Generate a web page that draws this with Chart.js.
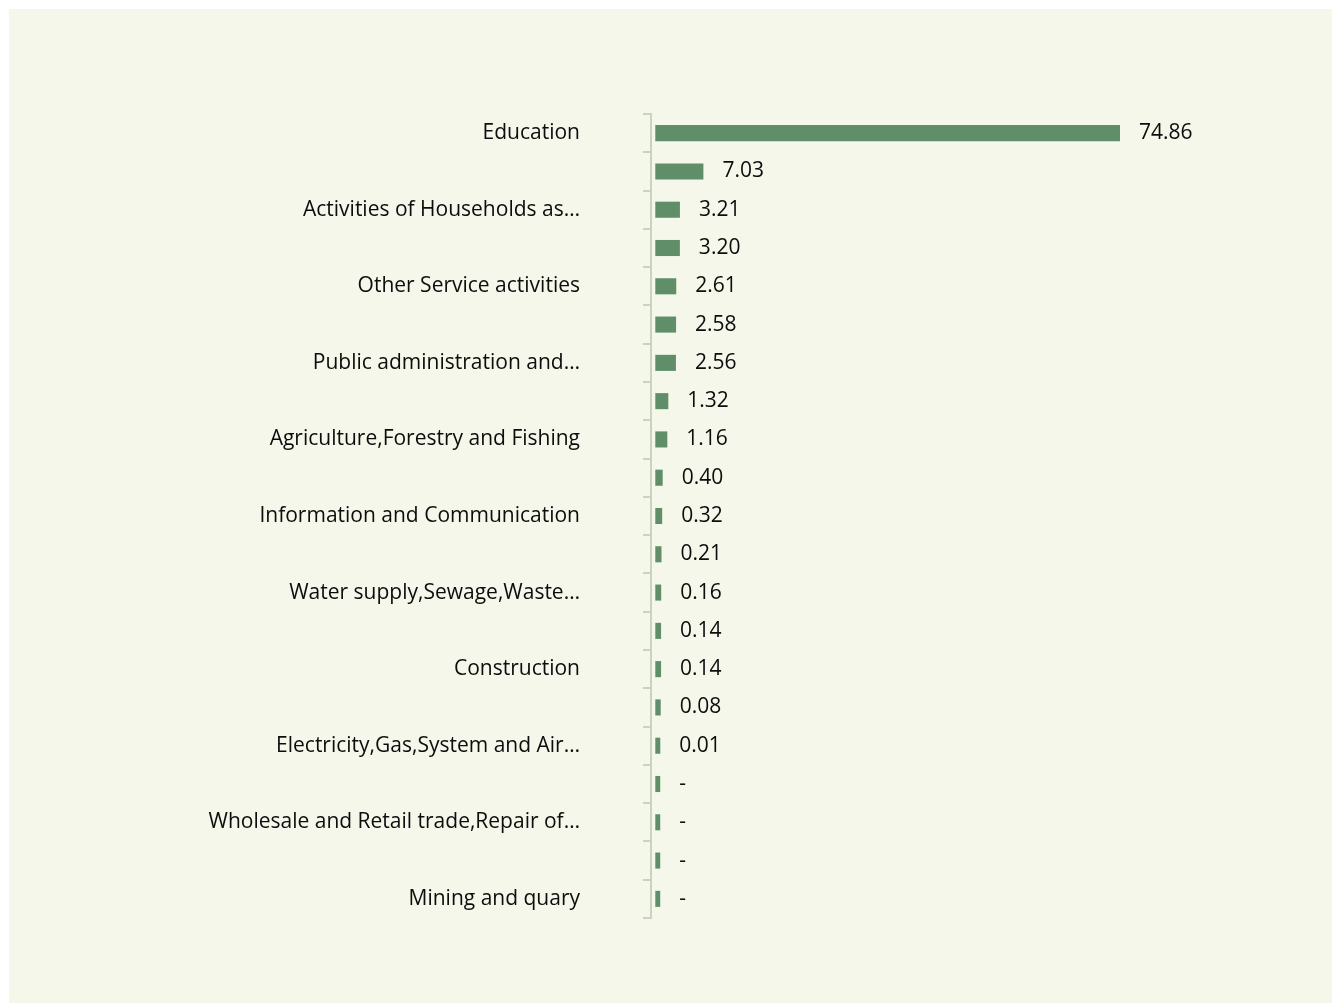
<!DOCTYPE html>
<html>
<head>
<meta charset="utf-8">
<script src="https://cdn.jsdelivr.net/npm/chart.js@4.4.1/dist/chart.umd.min.js"></script>
<style>
  html, body { margin: 0; background: #fff; }
  #panel { position: absolute; left: 9px; top: 9px; width: 1323px; height: 994px; background: #f4f7ea; }
</style>
</head>
<body>
<div id="panel"><canvas id="chart"></canvas></div>
<script>
  // Only every other category name is shown on the axis
  const categories = [
    'Education', '',
    'Activities of Households as…', '',
    'Other Service activities', '',
    'Public administration and…', '',
    'Agriculture,Forestry and Fishing', '',
    'Information and Communication', '',
    'Water supply,Sewage,Waste…', '',
    'Construction', '',
    'Electricity,Gas,System and Air…', '',
    'Wholesale and Retail trade,Repair of…', '',
    'Mining and quary',
  ];
  const shares = [
    74.86, 7.03, 3.21, 3.20, 2.61, 2.58, 2.56, 1.32, 1.16, 0.40, 0.32,
    0.21, 0.16, 0.14, 0.14, 0.08, 0.01, 0, 0, 0, 0,
  ];

  const FONT = "'Open Sans', sans-serif";
  const BAR = '#5f8e68';
  const AXIS = '#c8d4bb';

  // value labels to the right of each bar, zero shown as a dash
  const valueLabels = {
    id: 'valueLabels',
    afterDatasetsDraw(chart) {
      const { ctx } = chart;
      const meta = chart.getDatasetMeta(0);
      ctx.save();
      ctx.font = `21px ${FONT}`;
      ctx.fillStyle = '#0d0d0d';
      ctx.textAlign = 'left';
      ctx.textBaseline = 'middle';
      meta.data.forEach((bar, i) => {
        const v = shares[i];
        const txt = v === 0 ? '-' : v.toFixed(2);
        ctx.fillText(txt, bar.x + 19, bar.y);
      });
      ctx.restore();
    },
  };

  new Chart(document.getElementById('chart'), {
    type: 'bar',
    data: {
      labels: categories,
      datasets: [{
        data: shares,
        base: -0.8,
        backgroundColor: BAR,
        categoryPercentage: 1,
        barPercentage: 0.42,
      }],
    },
    options: {
      indexAxis: 'y',
      responsive: true,
      maintainAspectRatio: false,
      animation: false,
      layout: { padding: { left: 0, top: 105, bottom: 85, right: 119 } },
      plugins: { legend: { display: false }, tooltip: { enabled: false } },
      scales: {
        x: { display: false, min: -1.5, max: 90 },
        y: {
          afterFit: (scale) => { scale.width = 642; },
          border: { display: true, color: AXIS, width: 2 },
          grid: { offset: true, drawOnChartArea: false, drawTicks: true, tickLength: 8, color: AXIS, lineWidth: 2 },
          ticks: {
            autoSkip: false,
            padding: 63,
            color: '#0d0d0d',
            font: { family: FONT, size: 21 },
          },
        },
      },
    },
    plugins: [valueLabels],
  });
</script>
</body>
</html>
